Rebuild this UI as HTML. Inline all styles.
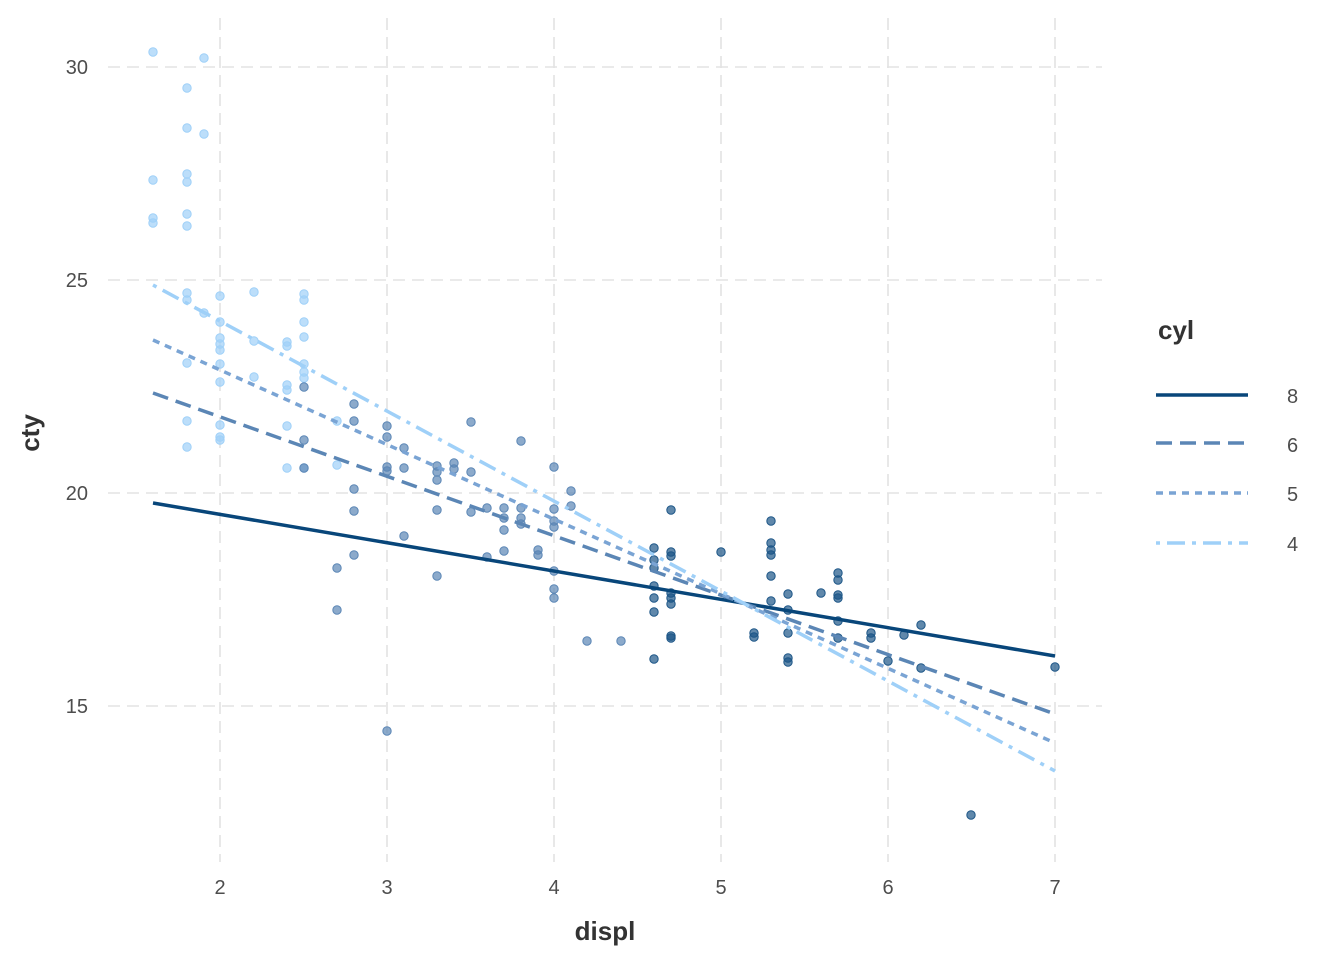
<!DOCTYPE html>
<html><head><meta charset="utf-8"><style>body{margin:0;background:#fff}</style></head><body>
<svg width="1344" height="960" xmlns="http://www.w3.org/2000/svg" font-family="Liberation Sans, sans-serif">
<g stroke="#e3e3e3" stroke-width="1.6" stroke-dasharray="12,7">
<line x1="108" x2="1102" y1="67" y2="67"/><line x1="108" x2="1102" y1="280" y2="280"/><line x1="108" x2="1102" y1="493" y2="493"/><line x1="108" x2="1102" y1="706" y2="706"/>
<line y1="18" y2="862" x1="220" x2="220"/><line y1="18" y2="862" x1="387" x2="387"/><line y1="18" y2="862" x1="554" x2="554"/><line y1="18" y2="862" x1="721" x2="721"/><line y1="18" y2="862" x1="888" x2="888"/><line y1="18" y2="862" x1="1055" x2="1055"/>
</g>
<g id="pts"></g>
<g fill="none" stroke-width="3.5">
<line x1="153" y1="503" x2="1055" y2="656" stroke="#08467a"/>
<line x1="153" y1="393" x2="1055" y2="714" stroke="#5b86b5" stroke-dasharray="16,8"/>
<line x1="153" y1="340" x2="1055" y2="743" stroke="#7aa4d4" stroke-dasharray="7,6"/>
<line x1="153" y1="285" x2="1055" y2="771" stroke="#9fd0f8" stroke-dasharray="4,7,18,7"/>
</g>
<g font-size="20" fill="#4d4d4d" text-anchor="end">
<text x="88" y="74">30</text><text x="88" y="287">25</text><text x="88" y="500">20</text><text x="88" y="713">15</text>
</g>
<g font-size="20" fill="#4d4d4d" text-anchor="middle">
<text x="220" y="894">2</text><text x="387" y="894">3</text><text x="554" y="894">4</text><text x="721" y="894">5</text><text x="888" y="894">6</text><text x="1055" y="894">7</text>
</g>
<text x="605" y="940" font-size="26" font-weight="bold" fill="#333" text-anchor="middle">displ</text>
<text transform="translate(39,433) rotate(-90)" font-size="26" font-weight="bold" fill="#333" text-anchor="middle">cty</text>
<text x="1158" y="339" font-size="26" font-weight="bold" fill="#333">cyl</text>
<g stroke-width="3.5">
<line x1="1156" x2="1248" y1="395" y2="395" stroke="#08467a"/>
<line x1="1156" x2="1248" y1="443" y2="443" stroke="#5b86b5" stroke-dasharray="16,8"/>
<line x1="1156" x2="1248" y1="493" y2="493" stroke="#7aa4d4" stroke-dasharray="7,6"/>
<line x1="1156" x2="1248" y1="543" y2="543" stroke="#9fd0f8" stroke-dasharray="4,7,18,7"/>
</g>
<g font-size="20" fill="#4d4d4d"><text x="1287" y="403">8</text><text x="1287" y="452">6</text><text x="1287" y="501">5</text><text x="1287" y="551">4</text></g>
</svg>
<script>
var L=[[153,52],[204,58],[187,88],[187,128],[204,134],[153,180],[187,174],[187,182],[153,218],[153,223],[187,214],[187,226],[187,293],[187,300],[204,313],[220,296],[254,292],[220,322],[220,338],[220,344],[220,350],[220,364],[220,382],[254,341],[254,377],[287,342],[287,346],[304,294],[304,300],[304,322],[304,337],[304,364],[304,372],[304,378],[287,385],[287,390],[287,426],[287,468],[187,363],[187,421],[187,447],[220,425],[220,437],[220,440],[337,421],[337,465],[304,468]];
var M=[[304,387],[304,440],[304,468],[354,404],[354,421],[354,489],[354,511],[354,555],[337,568],[337,610],[387,426],[387,437],[387,467],[387,471],[404,448],[404,468],[404,536],[387,731],[437,466],[437,472],[437,480],[437,510],[437,576],[454,463],[454,469],[471,422],[471,472],[471,512],[487,508],[487,557],[504,508],[504,518],[504,551],[521,441],[521,508],[521,518],[521,524],[538,550],[538,555],[554,467],[554,521],[554,527],[554,509],[554,571],[554,589],[554,598],[571,506],[571,491],[587,641],[621,641],[504,530]];
var D=[[654,548],[654,560],[654,568],[654,586],[654,598],[654,612],[654,659],[671,510],[671,552],[671,556],[671,593],[671,598],[671,604],[671,636],[671,638],[721,552],[754,633],[754,637],[771,521],[771,543],[771,550],[771,555],[771,576],[771,601],[788,594],[788,610],[788,633],[788,658],[788,662],[821,593],[838,573],[838,580],[838,595],[838,598],[838,621],[838,638],[871,633],[871,638],[888,661],[904,635],[921,625],[921,668],[971,815],[1055,667]];
var g=document.getElementById('pts'),s='';
function add(a,c){a.forEach(function(p){s+='<circle cx="'+p[0]+'" cy="'+p[1]+'" r="4.2" fill="'+c+'" fill-opacity="0.7" stroke="'+c+'" stroke-width="1"/>';});}
add(L,'#9fd0f8');add(M,'#5b86b5');add(D,'#1d5687');
g.innerHTML=s;
</script>
</body></html>
